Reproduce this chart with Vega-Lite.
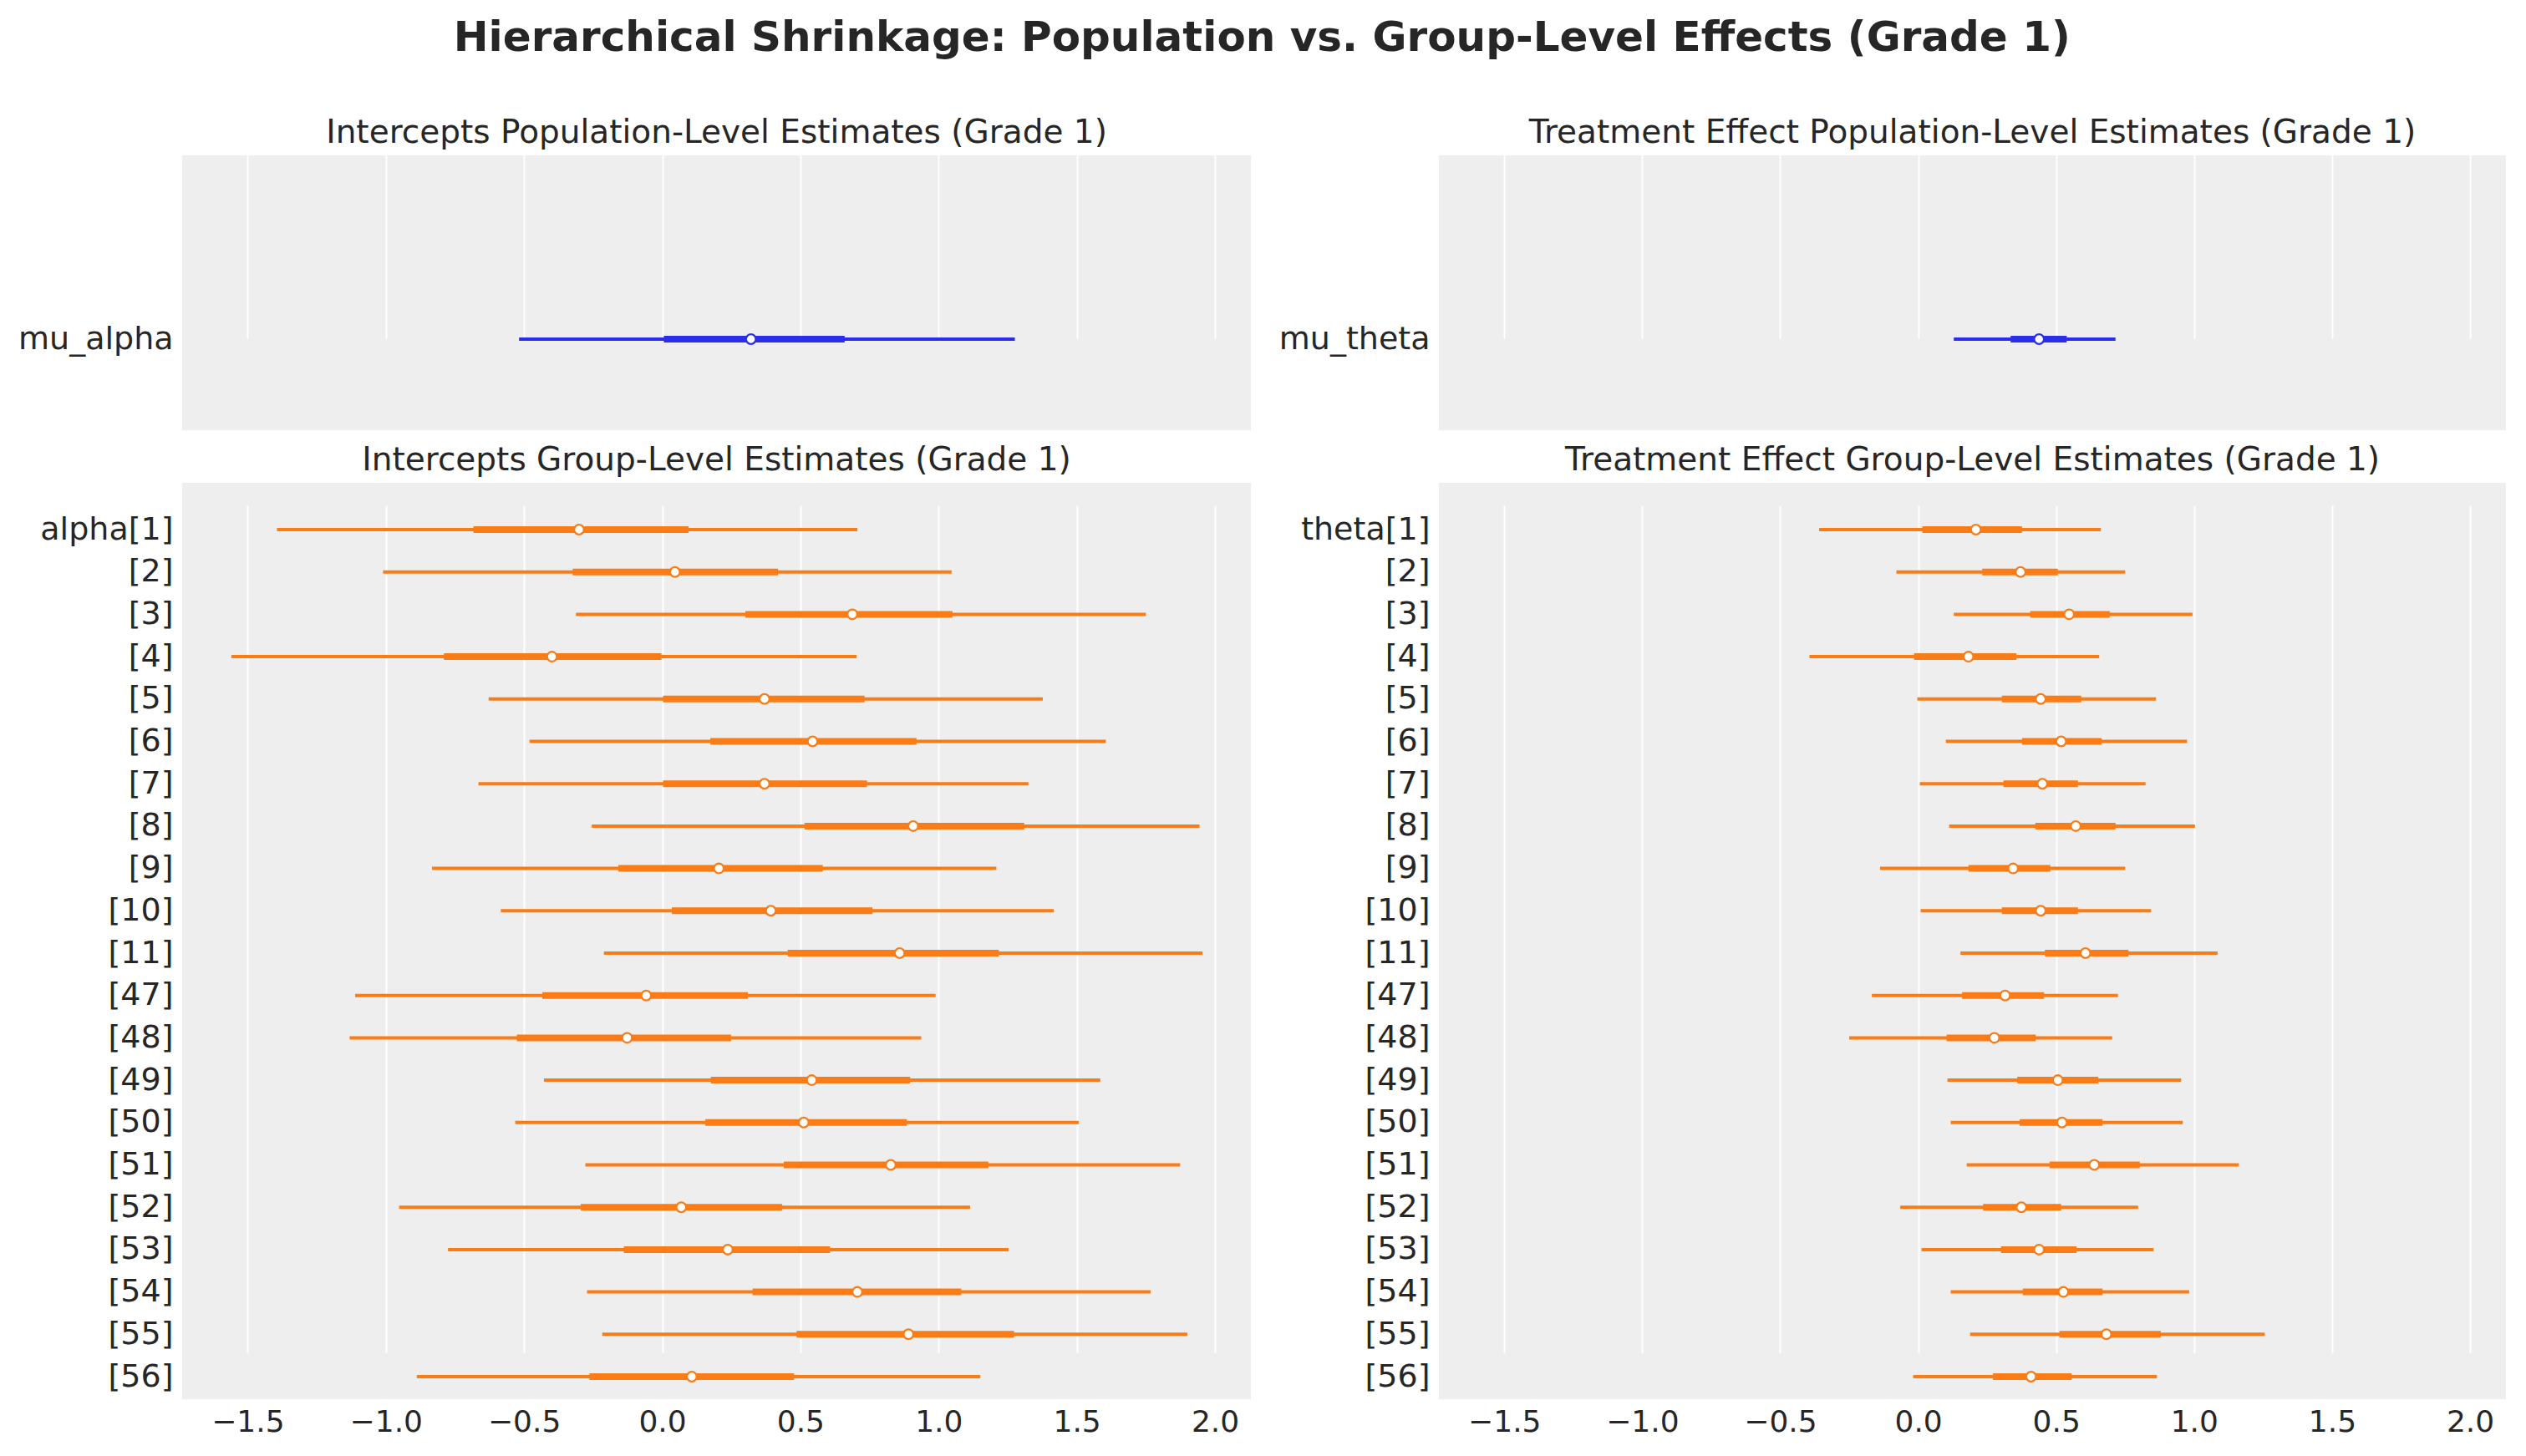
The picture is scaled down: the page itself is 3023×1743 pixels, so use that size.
{
  "$schema": "https://vega.github.io/schema/vega-lite/v6.json",
  "background": "white",
  "padding": {"left": 21, "top": 21, "right": 20, "bottom": 20},
  "title": {"text": "Hierarchical Shrinkage: Population vs. Group-Level Effects (Grade 1)", "fontSize": 50, "fontWeight": "bold", "anchor": "middle", "color": "#262626", "offset": 69},
  "config": {
    "font": "DejaVu Sans",
    "view": {"fill": "#eeeeee", "stroke": null},
    "axis": {"domain": false, "ticks": false, "labelFont": "DejaVu Sans", "labelColor": "#262626", "title": null, "labelLimit": 0},
    "axisX": {"grid": true, "gridColor": "#ffffff", "gridWidth": 2, "labelFontSize": 36, "labelPadding": 10},
    "axisY": {"grid": false, "labelFontSize": 38, "labelPadding": 11},
    "title": {"fontSize": 39, "fontWeight": "normal", "color": "#262626", "offset": 7},
    "concat": {"spacing": 33}
  },
  "data": {"values": [
    {"g": "mu_alpha", "lab": "mu_alpha", "lo": -0.518, "q1": 0.006, "m": 0.321, "q3": 0.66, "hi": 1.276},
    {"g": "alpha", "lab": "alpha[1]", "lo": -1.394, "q1": -0.683, "m": -0.301, "q3": 0.095, "hi": 0.706},
    {"g": "alpha", "lab": "[2]", "lo": -1.01, "q1": -0.324, "m": 0.046, "q3": 0.419, "hi": 1.047},
    {"g": "alpha", "lab": "[3]", "lo": -0.312, "q1": 0.301, "m": 0.688, "q3": 1.05, "hi": 1.75},
    {"g": "alpha", "lab": "[4]", "lo": -1.559, "q1": -0.79, "m": -0.399, "q3": -0.003, "hi": 0.703},
    {"g": "alpha", "lab": "[5]", "lo": -0.628, "q1": 0.003, "m": 0.37, "q3": 0.732, "hi": 1.377},
    {"g": "alpha", "lab": "[6]", "lo": -0.48, "q1": 0.174, "m": 0.544, "q3": 0.92, "hi": 1.605},
    {"g": "alpha", "lab": "[7]", "lo": -0.665, "q1": 0.003, "m": 0.37, "q3": 0.741, "hi": 1.325},
    {"g": "alpha", "lab": "[8]", "lo": -0.255, "q1": 0.515, "m": 0.908, "q3": 1.31, "hi": 1.944},
    {"g": "alpha", "lab": "[9]", "lo": -0.833, "q1": -0.159, "m": 0.205, "q3": 0.581, "hi": 1.209},
    {"g": "alpha", "lab": "[10]", "lo": -0.584, "q1": 0.035, "m": 0.393, "q3": 0.761, "hi": 1.417},
    {"g": "alpha", "lab": "[11]", "lo": -0.211, "q1": 0.454, "m": 0.859, "q3": 1.218, "hi": 1.955},
    {"g": "alpha", "lab": "[47]", "lo": -1.111, "q1": -0.434, "m": -0.058, "q3": 0.31, "hi": 0.989},
    {"g": "alpha", "lab": "[48]", "lo": -1.131, "q1": -0.526, "m": -0.127, "q3": 0.249, "hi": 0.937},
    {"g": "alpha", "lab": "[49]", "lo": -0.428, "q1": 0.176, "m": 0.541, "q3": 0.897, "hi": 1.585},
    {"g": "alpha", "lab": "[50]", "lo": -0.532, "q1": 0.156, "m": 0.512, "q3": 0.885, "hi": 1.507},
    {"g": "alpha", "lab": "[51]", "lo": -0.278, "q1": 0.44, "m": 0.827, "q3": 1.18, "hi": 1.874},
    {"g": "alpha", "lab": "[52]", "lo": -0.952, "q1": -0.295, "m": 0.069, "q3": 0.434, "hi": 1.114},
    {"g": "alpha", "lab": "[53]", "lo": -0.775, "q1": -0.139, "m": 0.237, "q3": 0.607, "hi": 1.253},
    {"g": "alpha", "lab": "[54]", "lo": -0.272, "q1": 0.327, "m": 0.706, "q3": 1.082, "hi": 1.767},
    {"g": "alpha", "lab": "[55]", "lo": -0.217, "q1": 0.486, "m": 0.891, "q3": 1.273, "hi": 1.9},
    {"g": "alpha", "lab": "[56]", "lo": -0.888, "q1": -0.263, "m": 0.107, "q3": 0.477, "hi": 1.151},
    {"g": "mu_theta", "lab": "mu_theta", "lo": 0.129, "q1": 0.335, "m": 0.438, "q3": 0.538, "hi": 0.715},
    {"g": "theta", "lab": "theta[1]", "lo": -0.359, "q1": 0.015, "m": 0.209, "q3": 0.376, "hi": 0.662},
    {"g": "theta", "lab": "[2]", "lo": -0.079, "q1": 0.232, "m": 0.371, "q3": 0.506, "hi": 0.75},
    {"g": "theta", "lab": "[3]", "lo": 0.129, "q1": 0.406, "m": 0.547, "q3": 0.694, "hi": 0.994},
    {"g": "theta", "lab": "[4]", "lo": -0.394, "q1": -0.015, "m": 0.182, "q3": 0.356, "hi": 0.656},
    {"g": "theta", "lab": "[5]", "lo": -0.003, "q1": 0.303, "m": 0.444, "q3": 0.591, "hi": 0.862},
    {"g": "theta", "lab": "[6]", "lo": 0.1, "q1": 0.376, "m": 0.518, "q3": 0.665, "hi": 0.974},
    {"g": "theta", "lab": "[7]", "lo": 0.006, "q1": 0.309, "m": 0.45, "q3": 0.579, "hi": 0.824},
    {"g": "theta", "lab": "[8]", "lo": 0.112, "q1": 0.424, "m": 0.571, "q3": 0.715, "hi": 1.003},
    {"g": "theta", "lab": "[9]", "lo": -0.138, "q1": 0.182, "m": 0.344, "q3": 0.479, "hi": 0.75},
    {"g": "theta", "lab": "[10]", "lo": 0.009, "q1": 0.303, "m": 0.444, "q3": 0.579, "hi": 0.844},
    {"g": "theta", "lab": "[11]", "lo": 0.153, "q1": 0.459, "m": 0.606, "q3": 0.762, "hi": 1.085},
    {"g": "theta", "lab": "[47]", "lo": -0.168, "q1": 0.159, "m": 0.315, "q3": 0.456, "hi": 0.724},
    {"g": "theta", "lab": "[48]", "lo": -0.25, "q1": 0.103, "m": 0.276, "q3": 0.426, "hi": 0.703},
    {"g": "theta", "lab": "[49]", "lo": 0.106, "q1": 0.359, "m": 0.506, "q3": 0.653, "hi": 0.953},
    {"g": "theta", "lab": "[50]", "lo": 0.118, "q1": 0.368, "m": 0.521, "q3": 0.668, "hi": 0.959},
    {"g": "theta", "lab": "[51]", "lo": 0.176, "q1": 0.476, "m": 0.638, "q3": 0.803, "hi": 1.162},
    {"g": "theta", "lab": "[52]", "lo": -0.065, "q1": 0.235, "m": 0.374, "q3": 0.518, "hi": 0.797},
    {"g": "theta", "lab": "[53]", "lo": 0.012, "q1": 0.3, "m": 0.438, "q3": 0.574, "hi": 0.853},
    {"g": "theta", "lab": "[54]", "lo": 0.118, "q1": 0.379, "m": 0.526, "q3": 0.668, "hi": 0.982},
    {"g": "theta", "lab": "[55]", "lo": 0.188, "q1": 0.512, "m": 0.682, "q3": 0.879, "hi": 1.256},
    {"g": "theta", "lab": "[56]", "lo": -0.018, "q1": 0.271, "m": 0.409, "q3": 0.556, "hi": 0.865}
  ]},
  "hconcat": [
    {"vconcat": [
      {
        "width": 1279, "height": 329,
        "title": "Intercepts Population-Level Estimates (Grade 1)",
        "transform": [{"filter": "datum.g === 'mu_alpha'"}],
        "encoding": {"y": {"field": "lab", "type": "nominal", "sort": null, "scale": {"type": "point", "range": [110, 330], "padding": 0}, "axis": {"title": null}}},
        "layer": [
          {"mark": {"type": "rule", "strokeWidth": 4, "color": "#2a2eec"}, "encoding": {"x": {"field": "lo", "type": "quantitative", "scale": {"domain": [-1.737, 2.13], "nice": false, "zero": false}, "axis": {"labels": false, "values": [-1.5, -1, -0.5, 0, 0.5, 1, 1.5, 2]}}, "x2": {"field": "hi"}}},
          {"mark": {"type": "rule", "strokeWidth": 8, "color": "#2a2eec"}, "encoding": {"x": {"field": "q1", "type": "quantitative"}, "x2": {"field": "q3"}}},
          {"mark": {"type": "point", "shape": "circle", "filled": true, "fill": "#ffffff", "stroke": "#2a2eec", "strokeWidth": 2.3, "size": 137, "opacity": 1}, "encoding": {"x": {"field": "m", "type": "quantitative"}}}
        ]
      },
      {
        "width": 1279, "height": 1097,
        "title": "Intercepts Group-Level Estimates (Grade 1)",
        "transform": [{"filter": "datum.g === 'alpha'"}],
        "encoding": {"y": {"field": "lab", "type": "nominal", "sort": null, "scale": {"type": "point", "range": [56, 1070], "padding": 0}, "axis": {"title": null}}},
        "layer": [
          {"mark": {"type": "rule", "strokeWidth": 4, "color": "#fa7c17"}, "encoding": {"x": {"field": "lo", "type": "quantitative", "scale": {"domain": [-1.737, 2.13], "nice": false, "zero": false}, "axis": {"values": [-1.5, -1, -0.5, 0, 0.5, 1, 1.5, 2], "format": ".1f"}}, "x2": {"field": "hi"}}},
          {"mark": {"type": "rule", "strokeWidth": 8, "color": "#fa7c17"}, "encoding": {"x": {"field": "q1", "type": "quantitative"}, "x2": {"field": "q3"}}},
          {"mark": {"type": "point", "shape": "circle", "filled": true, "fill": "#ffffff", "stroke": "#fa7c17", "strokeWidth": 2.3, "size": 137, "opacity": 1}, "encoding": {"x": {"field": "m", "type": "quantitative"}}}
        ]
      }
    ], "spacing": 17},
    {"vconcat": [
      {
        "width": 1277, "height": 329,
        "title": "Treatment Effect Population-Level Estimates (Grade 1)",
        "transform": [{"filter": "datum.g === 'mu_theta'"}],
        "encoding": {"y": {"field": "lab", "type": "nominal", "sort": null, "scale": {"type": "point", "range": [110, 330], "padding": 0}, "axis": {"title": null}}},
        "layer": [
          {"mark": {"type": "rule", "strokeWidth": 4, "color": "#2a2eec"}, "encoding": {"x": {"field": "lo", "type": "quantitative", "scale": {"domain": [-1.737, 2.13], "nice": false, "zero": false}, "axis": {"labels": false, "values": [-1.5, -1, -0.5, 0, 0.5, 1, 1.5, 2]}}, "x2": {"field": "hi"}}},
          {"mark": {"type": "rule", "strokeWidth": 8, "color": "#2a2eec"}, "encoding": {"x": {"field": "q1", "type": "quantitative"}, "x2": {"field": "q3"}}},
          {"mark": {"type": "point", "shape": "circle", "filled": true, "fill": "#ffffff", "stroke": "#2a2eec", "strokeWidth": 2.3, "size": 137, "opacity": 1}, "encoding": {"x": {"field": "m", "type": "quantitative"}}}
        ]
      },
      {
        "width": 1277, "height": 1097,
        "title": "Treatment Effect Group-Level Estimates (Grade 1)",
        "transform": [{"filter": "datum.g === 'theta'"}],
        "encoding": {"y": {"field": "lab", "type": "nominal", "sort": null, "scale": {"type": "point", "range": [56, 1070], "padding": 0}, "axis": {"title": null}}},
        "layer": [
          {"mark": {"type": "rule", "strokeWidth": 4, "color": "#fa7c17"}, "encoding": {"x": {"field": "lo", "type": "quantitative", "scale": {"domain": [-1.737, 2.13], "nice": false, "zero": false}, "axis": {"values": [-1.5, -1, -0.5, 0, 0.5, 1, 1.5, 2], "format": ".1f"}}, "x2": {"field": "hi"}}},
          {"mark": {"type": "rule", "strokeWidth": 8, "color": "#fa7c17"}, "encoding": {"x": {"field": "q1", "type": "quantitative"}, "x2": {"field": "q3"}}},
          {"mark": {"type": "point", "shape": "circle", "filled": true, "fill": "#ffffff", "stroke": "#fa7c17", "strokeWidth": 2.3, "size": 137, "opacity": 1}, "encoding": {"x": {"field": "m", "type": "quantitative"}}}
        ]
      }
    ], "spacing": 17}
  ]
}
